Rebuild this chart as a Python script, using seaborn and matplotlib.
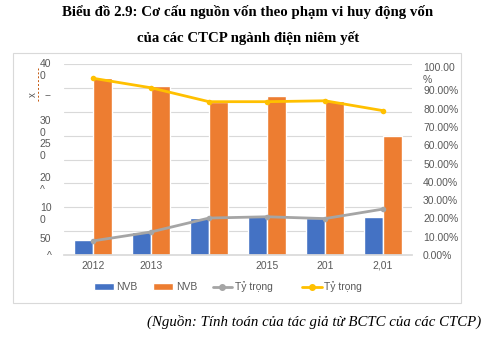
import matplotlib
matplotlib.use("Agg")
import matplotlib.pyplot as plt
import seaborn as sns
import pandas as pd
import numpy as np
from matplotlib.patches import Patch, Rectangle
from matplotlib.lines import Line2D

years = ["2012", "2013", "2014", "2015", "2016", "2017"]
year_labels = ["2012", "2013", "", "2015", "201", "2,01"]
nvb_blue = [31, 48, 77, 82, 77, 80]
nvb_orange = [371, 353, 321, 332, 323, 249]
ty_trong_gray = [7.7, 12.6, 20.2, 20.9, 19.9, 25.1]
ty_trong_yellow = [96.6, 91.4, 83.8, 83.8, 84.3, 78.9]
left_labels = ["40\n0", "--", "30\n0", "25\n0", "20\n^", "10\n0", "50", "^"]
right_ticks = [0, 10, 20, 30, 40, 50, 60, 70, 80, 90, 100]
right_labels = ["0.00%", "10.00%", "20.00%", "30.00%", "40.00%", "50.00%",
                "60.00%", "70.00%", "80.00%", "90.00%", "100.00\n%"]
legend_labels = ["NVB", "NVB", "Tỷ trọng", "Tỷ trọng"]
title1 = "Biểu đồ 2.9: Cơ cấu nguồn vốn theo phạm vi huy động vốn"
title2 = "của các CTCP ngành điện niêm yết"
source = "(Nguồn: Tính toán của tác giả từ BCTC của các CTCP)"

sns.set_theme(style="white")
plt.rcParams['font.family'] = ['Liberation Sans', 'DejaVu Sans']

BLUE, ORANGE, GRAY, YELLOW = "#4472C4", "#ED7D31", "#A5A5A5", "#FFC000"
TXT = "#595959"

W, H = 501, 344
fig = plt.figure(figsize=(W / 100, H / 100), dpi=100)
fig.patch.set_facecolor("white")

# chart frame
fig.patches.append(Rectangle((12.5 / W, 1 - 303 / H), (461 - 12.5) / W, (303 - 53) / H,
                             transform=fig.transFigure, fill=False,
                             edgecolor="#D9D9D9", linewidth=0.8))

ax = fig.add_axes([64 / W, 1 - 255 / H, (412 - 64) / W, (255 - 64) / H])

df = pd.DataFrame({
    "year": years * 2,
    "value": nvb_blue + nvb_orange,
    "series": ["NVB_a"] * len(years) + ["NVB_b"] * len(years),
})
sns.barplot(data=df, x="year", y="value", hue="series", palette=[BLUE, ORANGE],
            width=0.66, gap=0, ax=ax, legend=False, saturation=1)
ax.set_ylim(0, 400)
ax.set_xlim(-0.5, len(years) - 0.5)
# gridlines every 50 (minor ticks), garbled labels at their drawn spots (major ticks)
ax.set_yticks(np.arange(0, 401, 50), minor=True)
ax.set_yticks([391, 337, 272, 224, 153, 90, 36, 0])
ax.set_yticklabels(left_labels, multialignment="left")
ax.set_xticks(range(len(years)))
ax.set_xticklabels(year_labels)
ax.yaxis.grid(False, which="major")
ax.yaxis.grid(True, which="minor", color="#D9D9D9", linewidth=0.8)
ax.set_axisbelow(True)
for s in ["top", "right", "left"]:
    ax.spines[s].set_visible(False)
ax.spines["bottom"].set_color("#D9D9D9")
ax.tick_params(axis="both", which="both", length=0, labelsize=7.5, colors=TXT)
ax.tick_params(axis="y", pad=9)
ax.tick_params(axis="x", pad=4)
ax.set_xlabel("")
ax.set_ylabel("")

ax2 = ax.twinx()
xpos = np.arange(len(years))
sns.lineplot(x=xpos, y=ty_trong_gray, ax=ax2, color=GRAY, marker="o",
             markersize=4, linewidth=2, markeredgewidth=0)
sns.lineplot(x=xpos, y=ty_trong_yellow, ax=ax2, color=YELLOW, marker="o",
             markersize=4, linewidth=2, markeredgewidth=0)
ax2.set_ylim(0, 104.4)
ax2.set_xlim(-0.5, len(years) - 0.5)
ax2.set_yticks(right_ticks)
ax2.set_yticklabels(right_labels, multialignment="left")
for s in ax2.spines.values():
    s.set_visible(False)
ax2.tick_params(axis="y", length=0, labelsize=7.5, colors=TXT, pad=8)
ax2.grid(False)
ax2.set_ylabel("")

# odd left-axis artifacts
fig.add_artist(Line2D([38 / W, 38 / W], [1 - 68 / H, 1 - 103 / H], transform=fig.transFigure,
                      color="#C55A11", linestyle=(0, (2, 2)), linewidth=0.7))
fig.text(32.5 / W, 1 - 95 / H, "x", fontsize=7, color=TXT, rotation=90,
         ha="center", va="center")

h_bar = [Patch(facecolor=BLUE), Patch(facecolor=ORANGE),
         Line2D([], [], color=GRAY, marker="o", markersize=4, linewidth=2)]
h_line = [Line2D([], [], color=YELLOW, marker="o", markersize=4, linewidth=2)]
leg_kw = dict(frameon=False, fontsize=7.5, handlelength=1.9, handleheight=0.6,
              columnspacing=1.5, handletextpad=0.25, labelcolor=TXT,
              borderpad=0, borderaxespad=0)
leg1 = fig.legend(h_bar, legend_labels[:3], loc="center left",
                  bbox_to_anchor=(94 / W, 1 - 287 / H), ncol=3, **leg_kw)
leg2 = fig.legend(h_line, legend_labels[3:], loc="center left",
                  bbox_to_anchor=(302 / W, 1 - 287 / H), ncol=1, **leg_kw)

fig.text(248 / W, 1 - 12 / H, title1, ha="center", va="center", fontsize=10.75,
         fontweight="bold", family="Liberation Serif", color="black")
fig.text(248 / W, 1 - 38 / H, title2, ha="center", va="center", fontsize=10.75,
         fontweight="bold", family="Liberation Serif", color="black")
fig.text(481 / W, 1 - 322 / H, source, ha="right", va="center", fontsize=10.7,
         style="italic", family="Liberation Serif", color="black")

fig.savefig("out.png", dpi=100)
